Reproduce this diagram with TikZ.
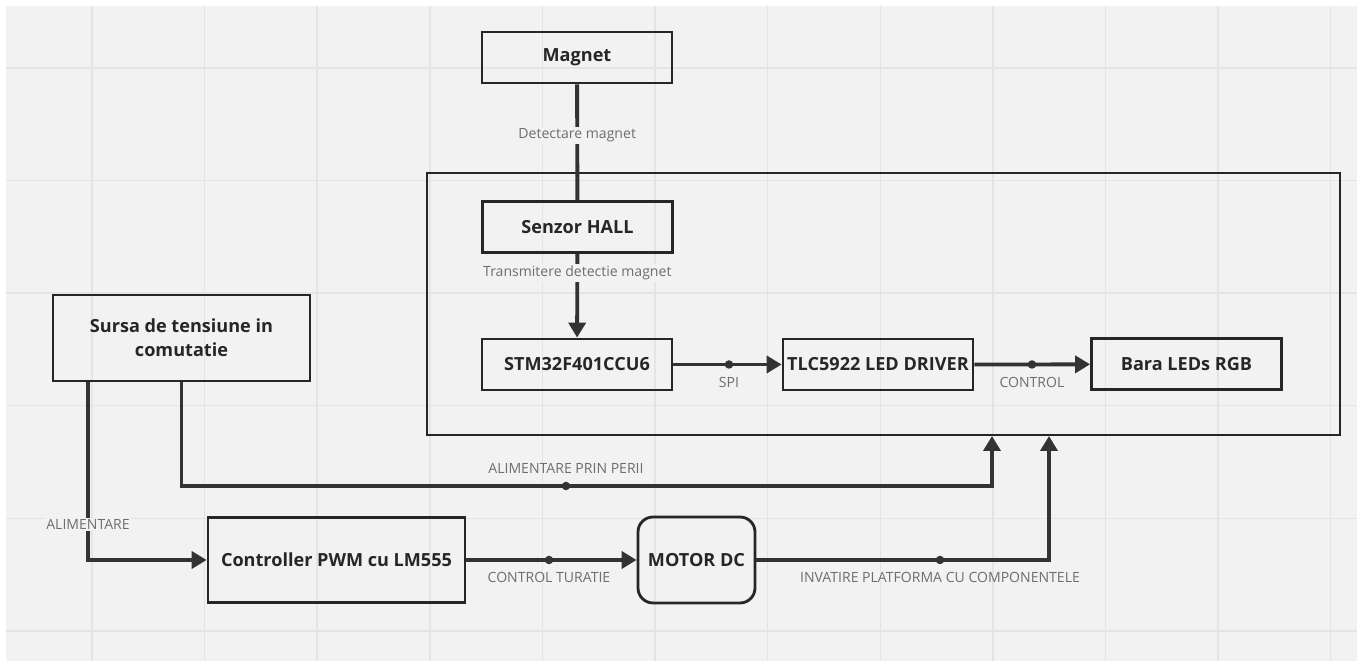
\documentclass[tikz,border=0pt]{standalone}
\usepackage{fontspec}
\setmainfont{Open Sans}
\usetikzlibrary{positioning, arrows.meta}

\definecolor{fundal}{HTML}{F2F2F2}
\definecolor{grila}{HTML}{E4E4E4}
\definecolor{linie}{HTML}{333333}
\definecolor{eticheta}{HTML}{6E6E6E}

\tikzset{
  bloc/.style={draw=black!85, line width=1.6pt, minimum width=3.8cm, minimum height=1.02cm,
    inner sep=0pt, align=center, text=black!85, font=\bfseries\fontsize{10.3}{13.6}\selectfont},
  conn/.style={draw=linie, line width=2.2pt},
  sageata/.style={conn, -{Triangle[length=0.3cm,width=0.34cm]}},
  punct/.style={circle, fill=linie, inner sep=0pt, minimum size=0.17cm},
  lbl/.style={font=\fontsize{8}{10}\selectfont, text=eticheta, inner sep=1pt},
}

\begin{document}
\begin{tikzpicture}[x=0.02cm, y=-0.02cm]
\useasboundingbox (0,0) rectangle (1357,661);
\fill[white] (0,0) rectangle (1357,661);
\fill[fundal] (6,6) rectangle (1357,661);
% grila de fundal
\foreach \i in {0,...,11} \draw[grila, line width=0.8pt] (92+112.6*\i,6) -- (92+112.6*\i,661);
\foreach \j in {0,...,5} \draw[grila, line width=0.8pt] (6,68+112.6*\j) -- (1357,68+112.6*\j);

% platforma rotativa
\node[draw=black!85, line width=1.6pt, minimum width=18.26cm, minimum height=5.24cm, inner sep=0pt] (platforma) at (883.5,304) {};

% blocuri
\node[bloc] (magnet) at (577,57.5) {Magnet};
\node[bloc] (hall) at (577.5,227) {Senzor HALL};
\node[bloc] (stm) at (577,364.5) {STM32F401CCU6};
\node[bloc] (tlc) at (878,364.5) {TLC5922 LED DRIVER};
\node[bloc] (leds) at (1186.5,364) {Bara LEDs RGB};
\node[bloc, minimum width=5.14cm, minimum height=1.72cm] (sursa) at (181.5,338) {Sursa de tensiune in\\comutatie};
\node[bloc, minimum width=5.14cm, minimum height=1.7cm] (pwm) at (336.5,560) {Controller PWM cu LM555};
\node[bloc, rounded corners=0.3cm, minimum width=2.34cm, minimum height=1.72cm] (motor) at (696.5,560) {MOTOR DC};

% puncte pe conexiuni
\node[punct] (dSpi) at (729,364.5) {};
\node[punct] (dCtrl) at (1032,364.5) {};
\node[punct] (dPerii) at (566,486) {};
\node[punct] (dTuratie) at (549,560) {};
\node[punct] (dMotor) at (940,560) {};
\coordinate (inPerii) at (992,436);
\coordinate (inMotor) at (1049,436);

% conexiuni
\draw[conn] (magnet) -- node[lbl, fill=fundal, pos=0.44] {Detectare magnet} (hall);
\draw[sageata] (hall) -- node[lbl, fill=fundal, pos=0.23] {Transmitere detectie magnet} (stm);
\draw[sageata] (stm) -- (dSpi.center) -- (tlc);
\node[lbl, below=0.12cm of dSpi] {SPI};
\draw[sageata] (tlc) -- (dCtrl.center) -- (leds);
\node[lbl, below=0.12cm of dCtrl] {CONTROL};

\draw[sageata] ([xshift=-1.87cm]sursa.south) |- node[lbl, fill=fundal, pos=0.4] {ALIMENTARE} (pwm);
\draw[conn] (sursa.south) |- (dPerii.center);
\draw[sageata] (dPerii.center) -| (inPerii);
\node[lbl, above=0.12cm of dPerii] {ALIMENTARE PRIN PERII};

\draw[sageata] (pwm) -- (dTuratie.center) -- (motor);
\node[lbl, below=0.12cm of dTuratie] {CONTROL TURATIE};
\draw[conn] (motor) -- (dMotor.center);
\draw[sageata] (dMotor.center) -| (inMotor);
\node[lbl, below=0.12cm of dMotor] {INVATIRE PLATFORMA CU COMPONENTELE};
\end{tikzpicture}
\end{document}
